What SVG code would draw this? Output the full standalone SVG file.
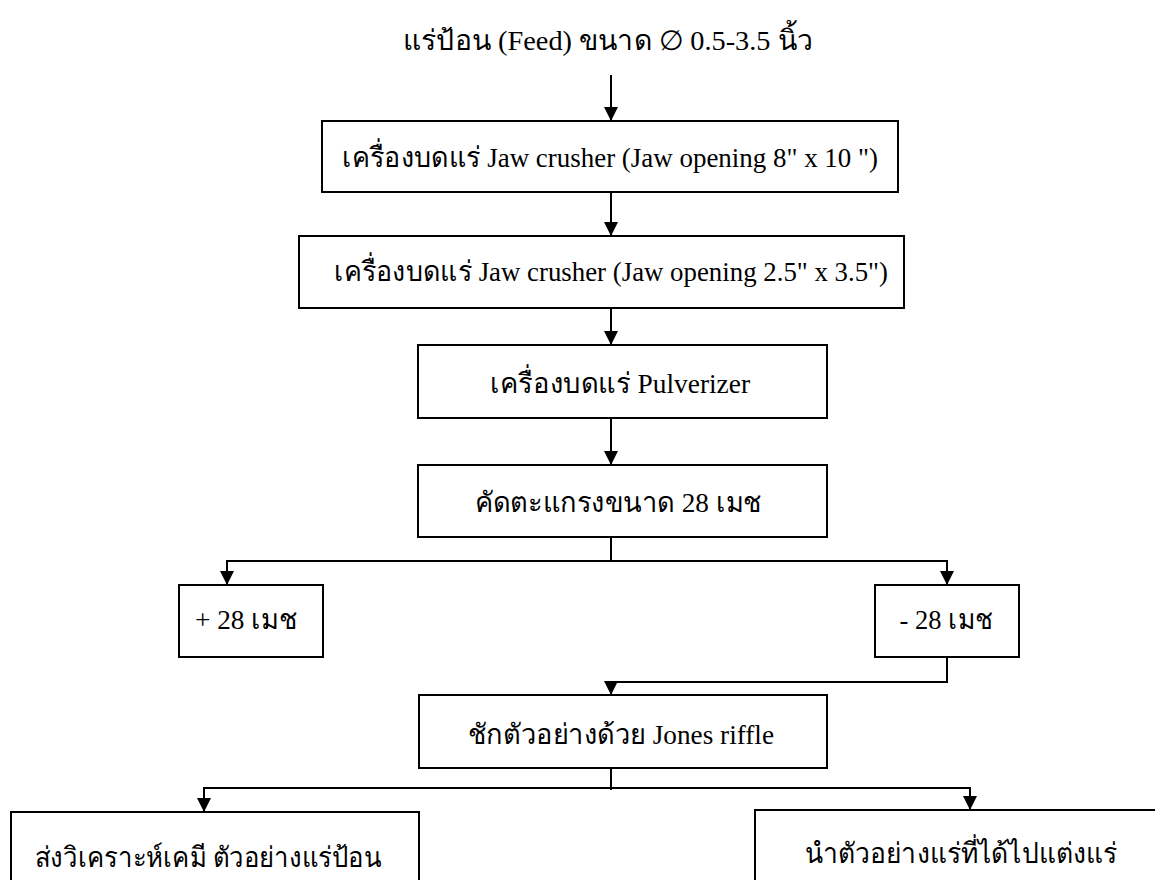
<svg xmlns="http://www.w3.org/2000/svg" width="1155" height="880" viewBox="0 0 1155 880">
<defs>
<marker id="ah" viewBox="0 0 14 14" refX="14" refY="7" markerWidth="14" markerHeight="14" markerUnits="userSpaceOnUse" orient="auto">
<path d="M0,0 L14,7 L0,14 z" fill="#000"/>
</marker>
<style>
.box{fill:#fff;stroke:#000;stroke-width:2}
.t{font-family:"Liberation Serif","Times New Roman",serif;font-size:28px;fill:#000;text-anchor:middle}
.c{fill:none;stroke:#000;stroke-width:2}
</style>
</defs>
<rect width="1155" height="880" fill="#fff"/>
<g id="title"><text class="t" x="608" y="50" textLength="410" lengthAdjust="spacingAndGlyphs">แร่ป้อน (Feed) ขนาด  ∅  0.5-3.5 นิ้ว</text></g>
<g id="jaw1"><rect class="box" x="322" y="121" width="576" height="71"/><text class="t" x="610" y="167" textLength="536" lengthAdjust="spacingAndGlyphs">เครื่องบดแร่ Jaw crusher (Jaw opening 8" x 10 ")</text></g>
<g id="jaw2"><rect class="box" x="299" y="236" width="605" height="72"/><text class="t" x="611" y="281" textLength="554" lengthAdjust="spacingAndGlyphs">เครื่องบดแร่ Jaw crusher (Jaw opening 2.5" x 3.5")</text></g>
<g id="pulverizer"><rect class="box" x="418" y="345" width="409" height="73"/><text class="t" x="620" y="393" textLength="260" lengthAdjust="spacingAndGlyphs">เครื่องบดแร่ Pulverizer</text></g>
<g id="screen"><rect class="box" x="418" y="465" width="409" height="72"/><text class="t" x="618" y="512" textLength="287" lengthAdjust="spacingAndGlyphs">คัดตะแกรงขนาด 28 เมช</text></g>
<g id="plus28"><rect class="box" x="179" y="585" width="144" height="72"/><text class="t" x="246" y="629" textLength="102" lengthAdjust="spacingAndGlyphs">+ 28 เมช</text></g>
<g id="minus28"><rect class="box" x="875" y="585" width="144" height="72"/><text class="t" x="946" y="629" textLength="93" lengthAdjust="spacingAndGlyphs">- 28 เมช</text></g>
<g id="jones"><rect class="box" x="419" y="695" width="408" height="73"/><text class="t" x="621" y="744" textLength="306" lengthAdjust="spacingAndGlyphs">ชักตัวอย่างด้วย Jones riffle</text></g>
<g id="chem"><rect class="box" x="11" y="812" width="408" height="90"/><text class="t" x="208" y="867" textLength="347" lengthAdjust="spacingAndGlyphs">ส่งวิเคราะห์เคมี ตัวอย่างแร่ป้อน</text></g>
<g id="dress"><rect class="box" x="755" y="810" width="420" height="90"/><text class="t" x="961" y="863" textLength="312" lengthAdjust="spacingAndGlyphs">นำตัวอย่างแร่ที่ได้ไปแต่งแร่</text></g>
<g id="connectors">
<path class="c" d="M611,75 V121" marker-end="url(#ah)"/>
<path class="c" d="M611,192 V236" marker-end="url(#ah)"/>
<path class="c" d="M611,308 V345" marker-end="url(#ah)"/>
<path class="c" d="M611,418 V465" marker-end="url(#ah)"/>
<path class="c" d="M611,537 V561 H227 V585" marker-end="url(#ah)"/>
<path class="c" d="M611,561 H947 V585" marker-end="url(#ah)"/>
<path class="c" d="M947,657 V682 H611 V695" marker-end="url(#ah)"/>
<path class="c" d="M611,768 V790"/>
<path class="c" d="M611,788 H204 V812" marker-end="url(#ah)"/>
<path class="c" d="M611,788 H970 V810" marker-end="url(#ah)"/>
</g>
</svg>
